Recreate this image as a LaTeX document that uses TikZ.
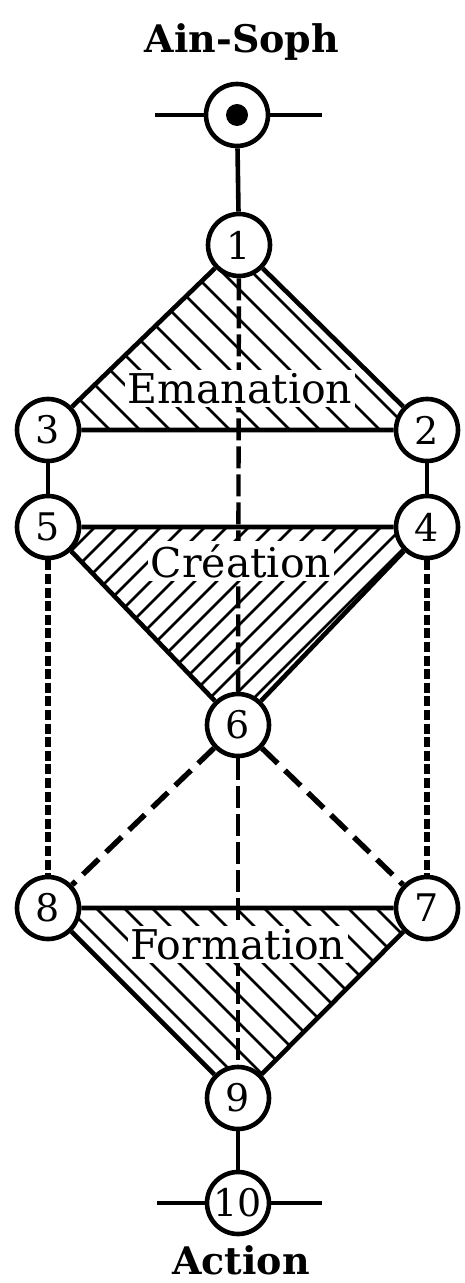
\documentclass[tikz,border=0pt]{standalone}
\usepackage{fontspec}
\setmainfont{DejaVu Serif}
\usetikzlibrary{backgrounds}

\begin{document}
\begin{tikzpicture}[x=0.5pt,y=-0.5pt,
	sefira/.style={circle,draw,line width=2.3pt,fill=white,minimum size=31pt,inner sep=0pt,font=\fontsize{19}{19}\selectfont},
	world/.style={fill=white,inner sep=1.5pt,font=\fontsize{20.5}{20.5}\selectfont},
	pole/.style={font=\bfseries\fontsize{19}{19}\selectfont},
	edge/.style={line width=2.3pt},
	hatch/.style={line width=1.4pt},
	midline/.style={line width=2.2pt,dash pattern=on 11pt off 3pt},
	side/.style={line width=2.6pt,dash pattern=on 5pt off 1.8pt},
	cross/.style={line width=2.7pt,dash pattern=on 11pt off 5pt}]
	\useasboundingbox (0,0) rectangle (465,1283);
	\node[sefira] (top) at (237,115) {};
	\fill (top) circle (5.5pt);
	\node[sefira] (s1) at (239,245) {1};
	\node[sefira] (s2) at (427,430) {2};
	\node[sefira] (s3) at (48,430) {3};
	\node[sefira] (s4) at (427,527) {4};
	\node[sefira] (s5) at (48,527) {5};
	\node[sefira] (s6) at (238,725) {6};
	\node[sefira] (s7) at (427,908) {7};
	\node[sefira] (s8) at (48,908) {8};
	\node[sefira] (s9) at (238,1098) {9};
	\node[sefira] (s10) at (238,1203) {10};
	\coordinate (topL) at (155,115);
	\coordinate (topR) at (322,115);
	\coordinate (botL) at (157,1203);
	\coordinate (botR) at (322,1203);
	\begin{scope}[on background layer]
		\begin{scope}
			\clip (s1.center) -- (s3.center) -- (s2.center) -- cycle;
			\foreach \x in {-240,-210,...,480}
				\draw[hatch] (\x,200) -- ++(260,260);
		\end{scope}
		\begin{scope}
			\clip (s5.center) -- (s4.center) -- (s6.center) -- cycle;
			\foreach \x in {-260,-238,...,480}
				\draw[hatch] (\x,750) -- ++(260,-260);
		\end{scope}
		\begin{scope}
			\clip (s8.center) -- (s7.center) -- (s9.center) -- cycle;
			\foreach \x in {-240,-212,...,480}
				\draw[hatch] (\x,880) -- ++(260,260);
		\end{scope}
	\end{scope}
	\draw[edge] (topL) -- (top) -- (topR);
	\draw[edge] (top) -- (s1);
	\draw[edge] (s1) -- (s3) -- (s2) -- (s1);
	\draw[edge] (s3) -- (s5);
	\draw[edge] (s2) -- (s4);
	\draw[edge] (s5) -- (s4) -- (s6) -- (s5);
	\draw[edge] (s8) -- (s7) -- (s9) -- (s8);
	\draw[edge] (s9) -- (s10);
	\draw[edge] (botL) -- (s10) -- (botR);
	\draw[midline] (s1) -- (s6);
	\draw[midline] (s6) -- (s9);
	\draw[side] (s5) -- (s8);
	\draw[side] (s4) -- (s7);
	\draw[cross] (s6) -- (s8);
	\draw[cross] (s6) -- (s7);
	\node[world,anchor=base] (emanation) at (240,403) {Emanation};
	\node[world,anchor=base] (creation) at (241,577) {Création};
	\node[world,anchor=base] (formation) at (238,959) {Formation};
	\node[pole,anchor=base] (ainsoph) at (242,53) {Ain-Soph};
	\node[pole,anchor=base] (action) at (241,1274) {Action};
\end{tikzpicture}
\end{document}
